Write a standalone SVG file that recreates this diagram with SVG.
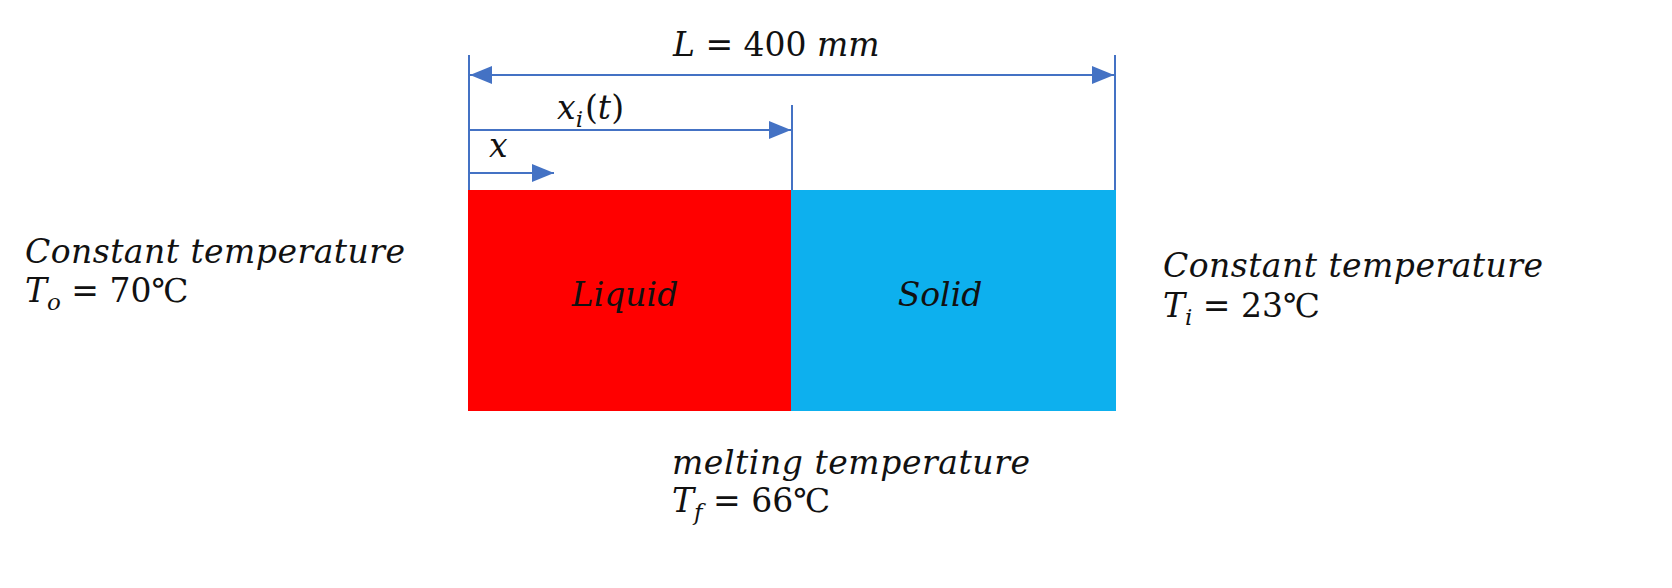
<svg xmlns="http://www.w3.org/2000/svg" width="1672" height="588" viewBox="0 0 1672 588">
<style>
.t{font-family:"DejaVu Serif","Liberation Serif",serif;font-style:italic;font-size:33px;fill:#111}
.n{font-style:normal}
.dim{stroke:#4472C4;stroke-width:2;fill:none}
</style>
<defs>
<marker id="ahb" viewBox="0 0 10 10" refX="10" refY="5" markerWidth="22" markerHeight="18" markerUnits="userSpaceOnUse" orient="auto-start-reverse" preserveAspectRatio="none">
<path d="M0,0 L10,5 L0,10 z" fill="#4472C4"/>
</marker>
</defs>
<rect width="1672" height="588" fill="#fff"/>
<g id="liquid">
<rect x="468" y="190" width="324" height="221" fill="#FF0000"/>
<text class="t" x="625" y="306" text-anchor="middle">Liquid</text>
</g>
<g id="solid">
<rect x="791" y="190" width="325" height="221" fill="#0DB0EE"/>
<text class="t" x="940" y="306" text-anchor="middle">Solid</text>
</g>
<g id="connectors">
<line class="dim" x1="469" y1="55" x2="469" y2="190"/>
<line class="dim" x1="792" y1="105" x2="792" y2="190"/>
<line class="dim" x1="1115" y1="55" x2="1115" y2="190"/>
<line class="dim" x1="470" y1="75" x2="1114" y2="75" marker-start="url(#ahb)" marker-end="url(#ahb)"/>
<line class="dim" x1="469" y1="130" x2="791" y2="130" marker-end="url(#ahb)"/>
<line class="dim" x1="469" y1="173" x2="554" y2="173" marker-end="url(#ahb)"/>
</g>
<g id="labels">
<text class="t" x="673" y="56">L<tspan class="n"> = 400 </tspan>mm</text>
<text class="t" x="557" y="119">x<tspan font-size="23" dy="8">i</tspan><tspan class="n" dy="-8" dx="2">(</tspan>t<tspan class="n">)</tspan></text>
<text class="t" x="489" y="157">x</text>
</g>
<g id="left-boundary">
<text class="t" x="25" y="263" textLength="380" lengthAdjust="spacing">Constant temperature</text>
<text class="t" x="25" y="302">T<tspan font-size="23" dy="8">o</tspan><tspan class="n" dy="-8"> = 70℃</tspan></text>
</g>
<g id="right-boundary">
<text class="t" x="1163" y="277" textLength="380" lengthAdjust="spacing">Constant temperature</text>
<text class="t" x="1163" y="317">T<tspan font-size="23" dy="8">i</tspan><tspan class="n" dy="-8"> = 23℃</tspan></text>
</g>
<g id="interface">
<text class="t" x="672" y="474" textLength="358" lengthAdjust="spacing">melting temperature</text>
<text class="t" x="672" y="512">T<tspan font-size="23" dy="8">f</tspan><tspan class="n" dy="-8"> = 66℃</tspan></text>
</g>
</svg>
